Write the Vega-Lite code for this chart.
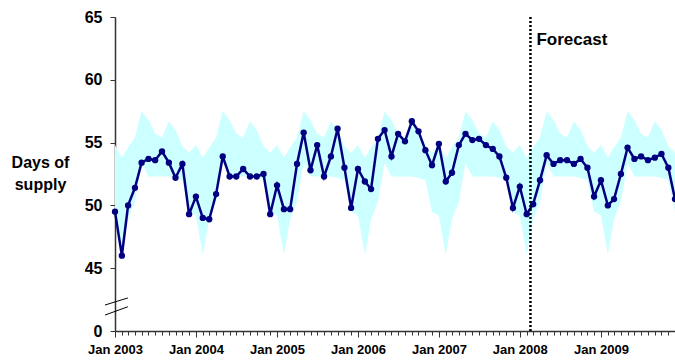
{
  "$schema": "https://vega.github.io/schema/vega-lite/v6.json",
  "width": 560,
  "height": 314,
  "autosize": "none",
  "padding": {"left": 115, "top": 17, "right": 0, "bottom": 29},
  "config": {"view": {"stroke": null}, "axis": {"grid": false}},
  "layer": [
    {
      "data": {
        "format": {"parse": {"d": "date"}},
        "values": [
          {"d": "2003/01/01", "v": 49.5, "lo": 49.2, "hi": 54.8},
          {"d": "2003/02/01", "v": 46.0, "lo": 46.1, "hi": 53.8},
          {"d": "2003/03/01", "v": 50.0, "lo": 48.9, "hi": 54.6},
          {"d": "2003/04/01", "v": 51.4, "lo": 50.3, "hi": 55.4},
          {"d": "2003/05/01", "v": 53.4, "lo": 53.4, "hi": 57.5},
          {"d": "2003/06/01", "v": 53.7, "lo": 52.3, "hi": 56.8},
          {"d": "2003/07/01", "v": 53.6, "lo": 52.3, "hi": 55.7},
          {"d": "2003/08/01", "v": 54.3, "lo": 52.3, "hi": 55.4},
          {"d": "2003/09/01", "v": 53.4, "lo": 52.3, "hi": 56.7},
          {"d": "2003/10/01", "v": 52.2, "lo": 52.2, "hi": 56.0},
          {"d": "2003/11/01", "v": 53.3, "lo": 52.0, "hi": 54.7},
          {"d": "2003/12/01", "v": 49.3, "lo": 49.5, "hi": 54.2},
          {"d": "2004/01/01", "v": 50.7, "lo": 49.2, "hi": 54.8},
          {"d": "2004/02/01", "v": 49.0, "lo": 46.1, "hi": 53.8},
          {"d": "2004/03/01", "v": 48.9, "lo": 48.9, "hi": 54.6},
          {"d": "2004/04/01", "v": 50.9, "lo": 50.3, "hi": 55.4},
          {"d": "2004/05/01", "v": 53.9, "lo": 53.4, "hi": 57.5},
          {"d": "2004/06/01", "v": 52.3, "lo": 52.3, "hi": 56.8},
          {"d": "2004/07/01", "v": 52.3, "lo": 52.3, "hi": 55.7},
          {"d": "2004/08/01", "v": 52.9, "lo": 52.3, "hi": 55.4},
          {"d": "2004/09/01", "v": 52.3, "lo": 52.3, "hi": 56.7},
          {"d": "2004/10/01", "v": 52.3, "lo": 52.2, "hi": 56.0},
          {"d": "2004/11/01", "v": 52.5, "lo": 52.0, "hi": 54.7},
          {"d": "2004/12/01", "v": 49.3, "lo": 49.5, "hi": 54.2},
          {"d": "2005/01/01", "v": 51.6, "lo": 49.2, "hi": 54.8},
          {"d": "2005/02/01", "v": 49.7, "lo": 46.1, "hi": 53.8},
          {"d": "2005/03/01", "v": 49.7, "lo": 48.9, "hi": 54.6},
          {"d": "2005/04/01", "v": 53.3, "lo": 50.3, "hi": 55.4},
          {"d": "2005/05/01", "v": 55.8, "lo": 53.4, "hi": 57.5},
          {"d": "2005/06/01", "v": 52.8, "lo": 52.3, "hi": 56.8},
          {"d": "2005/07/01", "v": 54.8, "lo": 52.3, "hi": 55.7},
          {"d": "2005/08/01", "v": 52.3, "lo": 52.3, "hi": 55.4},
          {"d": "2005/09/01", "v": 53.9, "lo": 52.3, "hi": 56.7},
          {"d": "2005/10/01", "v": 56.1, "lo": 52.2, "hi": 56.0},
          {"d": "2005/11/01", "v": 53.0, "lo": 52.0, "hi": 54.7},
          {"d": "2005/12/01", "v": 49.8, "lo": 49.5, "hi": 54.2},
          {"d": "2006/01/01", "v": 52.9, "lo": 49.2, "hi": 54.8},
          {"d": "2006/02/01", "v": 51.9, "lo": 46.1, "hi": 53.8},
          {"d": "2006/03/01", "v": 51.3, "lo": 48.9, "hi": 54.6},
          {"d": "2006/04/01", "v": 55.3, "lo": 50.3, "hi": 55.4},
          {"d": "2006/05/01", "v": 56.0, "lo": 53.4, "hi": 57.5},
          {"d": "2006/06/01", "v": 53.9, "lo": 52.3, "hi": 56.8},
          {"d": "2006/07/01", "v": 55.7, "lo": 52.3, "hi": 55.7},
          {"d": "2006/08/01", "v": 55.1, "lo": 52.3, "hi": 55.4},
          {"d": "2006/09/01", "v": 56.7, "lo": 52.3, "hi": 56.7},
          {"d": "2006/10/01", "v": 55.9, "lo": 52.2, "hi": 56.0},
          {"d": "2006/11/01", "v": 54.4, "lo": 52.0, "hi": 54.7},
          {"d": "2006/12/01", "v": 53.2, "lo": 49.5, "hi": 54.2},
          {"d": "2007/01/01", "v": 54.9, "lo": 49.2, "hi": 54.8},
          {"d": "2007/02/01", "v": 51.9, "lo": 46.1, "hi": 53.8},
          {"d": "2007/03/01", "v": 52.6, "lo": 48.9, "hi": 54.6},
          {"d": "2007/04/01", "v": 54.8, "lo": 50.3, "hi": 55.4},
          {"d": "2007/05/01", "v": 55.7, "lo": 53.4, "hi": 57.5},
          {"d": "2007/06/01", "v": 55.2, "lo": 52.3, "hi": 56.8},
          {"d": "2007/07/01", "v": 55.3, "lo": 52.3, "hi": 55.7},
          {"d": "2007/08/01", "v": 54.8, "lo": 52.3, "hi": 55.4},
          {"d": "2007/09/01", "v": 54.5, "lo": 52.3, "hi": 56.7},
          {"d": "2007/10/01", "v": 53.9, "lo": 52.2, "hi": 56.0},
          {"d": "2007/11/01", "v": 52.2, "lo": 52.0, "hi": 54.7},
          {"d": "2007/12/01", "v": 49.8, "lo": 49.5, "hi": 54.2},
          {"d": "2008/01/01", "v": 51.5, "lo": 49.2, "hi": 54.8},
          {"d": "2008/02/01", "v": 49.3, "lo": 46.1, "hi": 53.8},
          {"d": "2008/03/01", "v": 50.1, "lo": 48.9, "hi": 54.6},
          {"d": "2008/04/01", "v": 52.0, "lo": 50.3, "hi": 55.4},
          {"d": "2008/05/01", "v": 54.0, "lo": 53.4, "hi": 57.5},
          {"d": "2008/06/01", "v": 53.3, "lo": 52.3, "hi": 56.8},
          {"d": "2008/07/01", "v": 53.6, "lo": 52.3, "hi": 55.7},
          {"d": "2008/08/01", "v": 53.6, "lo": 52.3, "hi": 55.4},
          {"d": "2008/09/01", "v": 53.3, "lo": 52.3, "hi": 56.7},
          {"d": "2008/10/01", "v": 53.7, "lo": 52.2, "hi": 56.0},
          {"d": "2008/11/01", "v": 53.0, "lo": 52.0, "hi": 54.7},
          {"d": "2008/12/01", "v": 50.7, "lo": 49.5, "hi": 54.2},
          {"d": "2009/01/01", "v": 52.0, "lo": 49.2, "hi": 54.8},
          {"d": "2009/02/01", "v": 50.0, "lo": 46.1, "hi": 53.8},
          {"d": "2009/03/01", "v": 50.5, "lo": 48.9, "hi": 54.6},
          {"d": "2009/04/01", "v": 52.5, "lo": 50.3, "hi": 55.4},
          {"d": "2009/05/01", "v": 54.6, "lo": 53.4, "hi": 57.5},
          {"d": "2009/06/01", "v": 53.7, "lo": 52.3, "hi": 56.8},
          {"d": "2009/07/01", "v": 53.9, "lo": 52.3, "hi": 55.7},
          {"d": "2009/08/01", "v": 53.6, "lo": 52.3, "hi": 55.4},
          {"d": "2009/09/01", "v": 53.8, "lo": 52.3, "hi": 56.7},
          {"d": "2009/10/01", "v": 54.1, "lo": 52.2, "hi": 56.0},
          {"d": "2009/11/01", "v": 53.0, "lo": 52.0, "hi": 54.7},
          {"d": "2009/12/01", "v": 50.5, "lo": 49.5, "hi": 54.2}
        ]
      },
      "encoding": {
        "x": {
          "field": "d", "type": "temporal",
          "scale": {"domain": [{"year": 2003, "month": 1, "date": 1}, {"year": 2009, "month": 12, "date": 1}], "nice": false},
          "axis": {
            "orient": "bottom", "tickCount": {"interval": "month", "step": 1}, "title": null,
            "labelExpr": "month(datum.value) == 0 ? timeFormat(datum.value, '%b %Y') : ''",
            "tickSize": {"condition": {"test": "month(datum.value) == 0", "value": 6}, "value": 4},
            "tickColor": "#333333", "domainColor": "#333333", "domainWidth": 1.5,
            "labelFont": "Liberation Sans", "labelFontWeight": "bold", "labelFontSize": 13, "labelColor": "#000000", "labelPadding": 6,
            "labelFlush": false, "labelOverlap": false
          }
        },
        "y": {
          "field": "lo", "type": "quantitative",
          "scale": {"domain": [40, 65], "nice": false, "zero": false},
          "axis": {
            "values": [40, 45, 50, 55, 60, 65],
            "labelExpr": "datum.value <= 40 ? '0' : datum.label",
            "tickSize": 5, "tickColor": "#333333", "domainColor": "#333333", "domainWidth": 1.5,
            "labelFont": "Liberation Sans", "labelFontWeight": "bold", "labelFontSize": 16, "labelColor": "#000000", "labelPadding": 8,
            "title": ["Days of", "supply"], "titleFont": "Liberation Sans", "titleFontWeight": "bold", "titleFontSize": 16, "titleColor": "#000000",
            "titleAngle": 0, "titleAlign": "center", "titleBaseline": "middle", "titleX": -75, "titleY": 145, "titleLineHeight": 22
          }
        }
      },
      "layer": [
        {
          "mark": {"type": "area", "color": "#CCFFFF", "opacity": 1},
          "encoding": {"y2": {"field": "hi"}}
        },
        {
          "mark": {"type": "line", "color": "#000080", "strokeWidth": 2.5},
          "encoding": {"y": {"field": "v", "type": "quantitative"}}
        },
        {
          "mark": {"type": "point", "filled": true, "size": 40, "color": "#000080", "opacity": 1},
          "encoding": {"y": {"field": "v", "type": "quantitative"}}
        }
      ]
    },
    {
      "data": {"values": [{}]},
      "mark": {"type": "rule", "color": "#000000", "strokeWidth": 2.5, "strokeDash": [2, 2]},
      "encoding": {
        "x": {"datum": {"year": 2008, "month": 2, "date": 18}, "type": "temporal"}
      }
    },
    {
      "data": {"values": [{}]},
      "mark": {"type": "text", "text": "Forecast", "align": "left", "baseline": "alphabetic", "dx": 6, "font": "Liberation Sans", "fontWeight": "bold", "fontSize": 17, "color": "#000000"},
      "encoding": {
        "x": {"datum": {"year": 2008, "month": 2, "date": 18}, "type": "temporal"},
        "y": {"datum": 62.75, "type": "quantitative"}
      }
    },
    {
      "data": {"values": [{}]},
      "mark": {"type": "rule", "color": "#000000", "strokeWidth": 1},
      "encoding": {
        "x": {"datum": {"year": 2002, "month": 11, "date": 17}, "type": "temporal"},
        "x2": {"datum": {"year": 2003, "month": 2, "date": 28}},
        "y": {"datum": 42.07, "type": "quantitative"},
        "y2": {"datum": 42.63}
      }
    },
    {
      "data": {"values": [{}]},
      "mark": {"type": "rule", "color": "#000000", "strokeWidth": 1},
      "encoding": {
        "x": {"datum": {"year": 2002, "month": 11, "date": 17}, "type": "temporal"},
        "x2": {"datum": {"year": 2003, "month": 2, "date": 28}},
        "y": {"datum": 41.27, "type": "quantitative"},
        "y2": {"datum": 41.93}
      }
    }
  ]
}
